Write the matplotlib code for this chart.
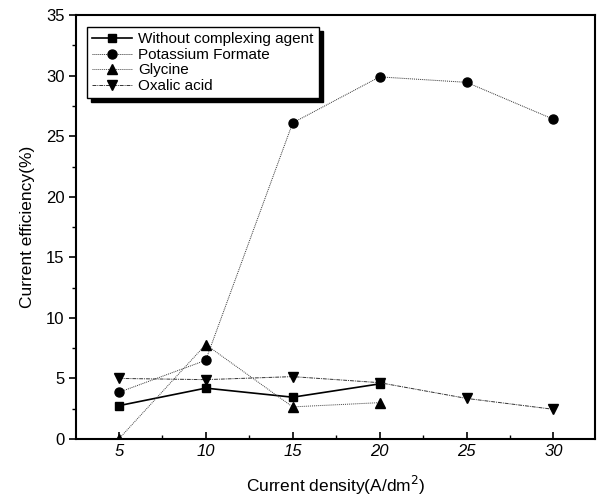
import matplotlib.pyplot as plt
from matplotlib.ticker import MultipleLocator

plt.rcParams['font.family'] = ['Liberation Sans', 'DejaVu Sans']

x_full = [5, 10, 15, 20, 25, 30]
x_short = [5, 10, 15, 20]

without_agent = [2.75, 4.2, 3.45, 4.55]
potassium_formate = [3.85, 6.5, 26.1, 29.9, 29.45, 26.4]
glycine = [0.0, 7.8, 2.65, 3.0]
oxalic_acid = [5.0, 4.9, 5.15, 4.65, 3.35, 2.45]

fig = plt.figure(figsize=(6, 5.04), dpi=100)
ax = fig.add_axes([0.127, 0.129, 0.865, 0.841])

ax.plot(x_short, without_agent, color='black', lw=1.2, ls='-',
        marker='s', ms=6, label='Without complexing agent')
ax.plot(x_full, potassium_formate, color='#333333', lw=0.7, ls=(0, (1, 1)),
        marker='o', ms=6.5, mfc='black', mec='black',
        label='Potassium Formate')
ax.plot(x_short, glycine, color='#444444', lw=0.7, ls=(0, (1, 1)),
        marker='^', ms=7, mfc='black', mec='black', label='Glycine')
ax.plot(x_full, oxalic_acid, color='#333333', lw=0.7, ls=(0, (4, 1, 1, 1)),
        marker='v', ms=7, mfc='black', mec='black', label='Oxalic acid')

ax.set_xlim(2.55, 32.4)
ax.set_ylim(0, 35)
ax.xaxis.set_major_locator(MultipleLocator(5))
ax.xaxis.set_minor_locator(MultipleLocator(2.5))
ax.yaxis.set_major_locator(MultipleLocator(5))
ax.yaxis.set_minor_locator(MultipleLocator(2.5))

ax.tick_params(axis='x', which='both', direction='in', top=False)
ax.tick_params(axis='y', which='both', direction='out', right=False)
ax.tick_params(which='major', length=5, width=1.2, labelsize=12)
ax.tick_params(which='minor', length=3, width=1.0)
for lab in ax.get_xticklabels():
    lab.set_fontstyle('italic')

for sp in ax.spines.values():
    sp.set_linewidth(1.5)

ax.set_xlabel('Current density(A/dm$^2$)', fontsize=12.5, labelpad=11)
ax.set_ylabel('Current efficiency(%)', fontsize=12.5, labelpad=8)

leg = ax.legend(loc='upper left', bbox_to_anchor=(0.006, 0.99),
                fontsize=11, frameon=True, fancybox=False,
                handlelength=2.6, handletextpad=0.4, labelspacing=0.1,
                borderpad=0.35,
                shadow={'color': 'black', 'alpha': 1.0, 'ox': 3, 'oy': -3})
leg.get_frame().set_edgecolor('black')
leg.get_frame().set_linewidth(1.0)
leg.get_frame().set_alpha(1.0)

fig.savefig('out.png', dpi=100)
